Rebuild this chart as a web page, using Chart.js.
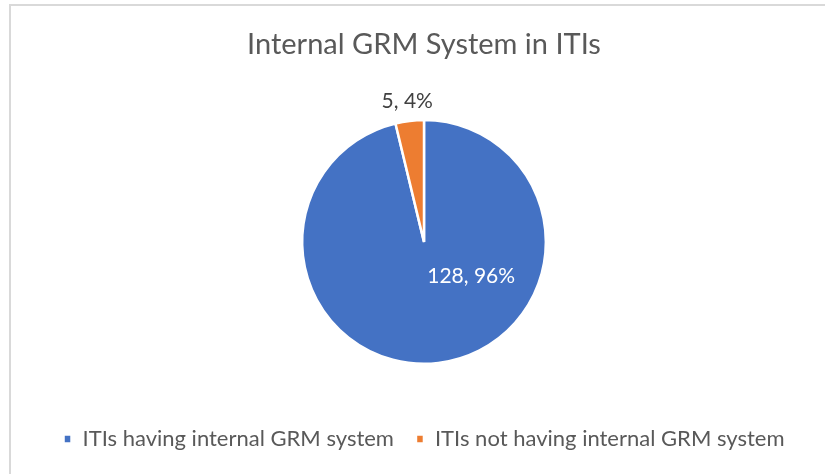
<!DOCTYPE html>
<html>
<head>
<meta charset="utf-8">
<script src="https://cdn.jsdelivr.net/npm/chart.js@4/dist/chart.umd.min.js"></script>
<style>
  html, body { margin: 0; padding: 0; background: #ffffff; }
  #wrap { position: relative; width: 825px; height: 474px; overflow: hidden; }
  #frame { position: absolute; left: 9px; top: 4px; width: 830px; height: 480px;
           border-left: 2px solid #d9d9d9; border-top: 2px solid #d9d9d9; box-sizing: border-box; }
  canvas { position: absolute; left: 0; top: 0; }
</style>
</head>
<body>
<div id="wrap">
  <div id="frame"></div>
  <canvas id="c" width="825" height="474"></canvas>
</div>
<script>
const chartTitle = "Internal GRM System in ITIs";
const categories = ["ITIs having internal GRM system", "ITIs not having internal GRM system"];
const values = [128, 5];
const percentLabels = ["96%", "4%"];
const sliceColors = ["#4472C4", "#ED7D31"];

// label placement styles (angle in degrees measured on canvas, radius as fraction of outer radius)
const labelStyle = [
  { angle: 36.3, radiusFrac: 0.48, color: "#ffffff" },
  { angle: null, radiusFrac: 1.165, color: "#404040" }
];

const FONT = "Lato, 'Open Sans', sans-serif";

const dataLabelPlugin = {
  id: "dataLabels",
  afterDatasetsDraw(chart) {
    const ctx = chart.ctx;
    const meta = chart.getDatasetMeta(0);
    ctx.save();
    ctx.font = "21px " + FONT;
    ctx.textAlign = "center";
    ctx.textBaseline = "middle";
    meta.data.forEach((arc, i) => {
      const p = arc.getProps(["x", "y", "startAngle", "endAngle", "outerRadius"], true);
      const st = labelStyle[i];
      const ang = st.angle === null ? (p.startAngle + p.endAngle) / 2 : st.angle * Math.PI / 180;
      const r = p.outerRadius * st.radiusFrac;
      const x = p.x + Math.cos(ang) * r;
      const y = p.y + Math.sin(ang) * r;
      ctx.fillStyle = st.color;
      ctx.fillText(values[i] + ", " + percentLabels[i], x, y);
    });
    ctx.restore();
  }
};

new Chart(document.getElementById("c"), {
  type: "pie",
  data: {
    labels: categories,
    datasets: [{
      data: values,
      backgroundColor: sliceColors,
      borderColor: "#ffffff",
      borderWidth: 2.5
    }]
  },
  options: {
    responsive: false,
    animation: false,
    layout: { padding: { left: 23, right: 0, top: 0, bottom: 14 } },
    plugins: {
      title: {
        display: true,
        text: chartTitle,
        color: "#595959",
        font: { family: FONT, size: 29, weight: "normal" },
        padding: { top: 27, bottom: 57 }
      },
      legend: {
        display: true,
        position: "bottom",
        title: {
          display: true,
          text: " ",
          font: { family: FONT, size: 10 },
          padding: { top: 0, bottom: 29 }
        },
        labels: {
          color: "#595959",
          font: { family: FONT, size: 22 },
          boxWidth: 8,
          boxHeight: 9,
          padding: 22
        }
      },
      tooltip: { enabled: false }
    }
  },
  plugins: [dataLabelPlugin]
});
</script>
</body>
</html>
